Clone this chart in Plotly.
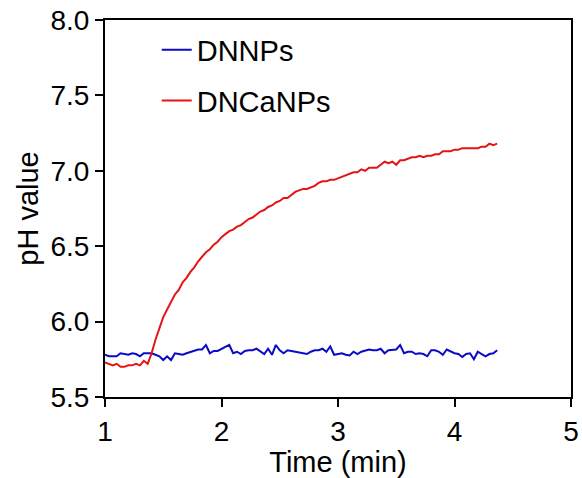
import plotly.graph_objects as go

# sampling: one reading every 2 s (1/30 min), from 1 min to ~4.37 min
time_min = [round(1 + i / 30, 4) for i in range(102)]

dnnps = [5.78, 5.77, 5.77, 5.77, 5.79, 5.785, 5.78, 5.79, 5.785, 5.77,
         5.79, 5.79, 5.79, 5.78, 5.77, 5.745, 5.77, 5.745, 5.79, 5.785,
         5.78, 5.79, 5.80, 5.81, 5.815, 5.815, 5.845, 5.79, 5.805, 5.805,
         5.82, 5.83, 5.845, 5.79, 5.80, 5.785, 5.805, 5.81, 5.81, 5.82,
         5.80, 5.785, 5.82, 5.78, 5.845, 5.81, 5.79, 5.81, 5.805, 5.80,
         5.79, 5.79, 5.785, 5.80, 5.81, 5.81, 5.82, 5.80, 5.835, 5.78,
         5.785, 5.79, 5.78, 5.775, 5.80, 5.785, 5.80, 5.81, 5.815, 5.81,
         5.81, 5.82, 5.79, 5.81, 5.81, 5.815, 5.845, 5.79, 5.80, 5.80,
         5.785, 5.79, 5.785, 5.77, 5.81, 5.81, 5.80, 5.78, 5.815, 5.80,
         5.79, 5.785, 5.765, 5.785, 5.79, 5.75, 5.80, 5.785, 5.77, 5.785,
         5.79, 5.81]

dncanps = [5.73, 5.72, 5.71, 5.72, 5.70, 5.70, 5.71, 5.71, 5.72, 5.71,
           5.74, 5.72, 5.79, 5.88, 5.96, 6.03, 6.08, 6.13, 6.18, 6.21,
           6.26, 6.29, 6.33, 6.36, 6.40, 6.43, 6.46, 6.48, 6.51, 6.53,
           6.56, 6.58, 6.60, 6.61, 6.63, 6.64, 6.66, 6.68, 6.69, 6.71,
           6.73, 6.74, 6.76, 6.77, 6.79, 6.80, 6.82, 6.82, 6.84, 6.86,
           6.87, 6.88, 6.88, 6.89, 6.90, 6.92, 6.93, 6.93, 6.94, 6.94,
           6.95, 6.96, 6.97, 6.98, 6.99, 6.99, 7.01, 7.00, 7.02, 7.02,
           7.02, 7.04, 7.06, 7.05, 7.06, 7.04, 7.07, 7.07, 7.08, 7.09,
           7.09, 7.10, 7.09, 7.10, 7.10, 7.11, 7.11, 7.13, 7.13, 7.13,
           7.14, 7.14, 7.15, 7.15, 7.15, 7.15, 7.15, 7.16, 7.16, 7.18,
           7.17, 7.18]

x_ticks = [1, 2, 3, 4, 5]
y_ticks = [5.5, 6.0, 6.5, 7.0, 7.5, 8.0]

FONT = "Liberation Sans, Arial, sans-serif"

fig = go.Figure()
fig.add_trace(go.Scatter(x=time_min, y=dnnps, mode="lines", name="DNNPs",
                         legendgroup="a",
                         line=dict(color="#0A0AC8", width=2)))
fig.add_trace(go.Scatter(x=time_min, y=dncanps, mode="lines", name="DNCaNPs",
                         legendgroup="b",
                         line=dict(color="#E41414", width=2)))

axis_common = dict(showline=True, linecolor="black", linewidth=2, mirror=True,
                   ticks="outside", ticklen=8, tickwidth=2, tickcolor="black",
                   showgrid=False, zeroline=False, automargin=False,
                   ticklabeloverflow="allow",
                   tickfont=dict(family=FONT, size=28, color="black"),
                   title_font=dict(family=FONT, size=29, color="black"))

fig.update_xaxes(range=[1, 5], tickvals=x_ticks, title_text="Time (min)",
                 title_standoff=2, **axis_common)
fig.update_yaxes(range=[5.5, 8.0], tickvals=y_ticks, tickformat=".1f",
                 title_text="pH value", title_standoff=3, **axis_common)

fig.update_layout(
    width=582, height=478,
    margin=dict(l=105, r=11, t=20, b=81),
    paper_bgcolor="white", plot_bgcolor="white",
    font=dict(family=FONT, size=28, color="black"),
    showlegend=True,
    legend=dict(x=0.111, y=0.988, xanchor="left", yanchor="top",
                bgcolor="rgba(0,0,0,0)", tracegroupgap=10,
                traceorder="grouped",
                font=dict(family=FONT, size=29, color="black")),
)

# remove the default 8 px page margin so the figure fills the window exactly
fig.write_html("out.html",
               config={"displayModeBar": False},
               post_script="document.body.style.margin='0';"
                           "document.body.style.overflow='hidden';")
